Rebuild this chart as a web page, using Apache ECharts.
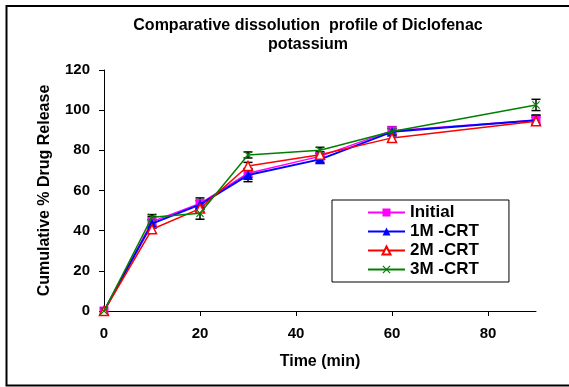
<!DOCTYPE html>
<html>
<head>
<meta charset="utf-8">
<script src="https://cdn.jsdelivr.net/npm/echarts@6/dist/echarts.min.js"></script>
<style>
  html, body { margin: 0; padding: 0; background: #fff; }
  #chart { width: 569px; height: 387px; }
</style>
</head>
<body>
<div id="chart"></div>
<script>
// Sampling times (min)
const timePoints = [0, 10, 20, 30, 45, 60, 90];

// Mean cumulative % drug release per storage condition
const initialRelease = [0, 44.5, 53.5, 68.6, 77.0, 89.8, 95.0];
const crt1mRelease   = [0, 43.5, 53.0, 67.7, 75.5, 89.2, 95.0];
const crt2mRelease   = [0, 40.7, 51.0, 72.2, 77.8, 86.2, 94.5];
const crt3mRelease   = [0, 46.7, 48.7, 77.7, 80.0, 89.4, 102.6];

// Standard deviations (error bars)
const initialSD = [0, 2.5, 2.8, 2.0, 1.5, 2.0, 2.5];
const crt1mSD   = [0, 2.0, 2.0, 3.3, 1.5, 1.5, 2.5];
const crt2mSD   = [0, 2.0, 1.5, 1.8, 1.5, 1.8, 2.0];
const crt3mSD   = [0, 1.3, 3.0, 1.5, 1.5, 1.5, 2.8];

const seriesNames = ['Initial', '1M -CRT', '2M -CRT', '3M -CRT'];
const xTicks = [0, 20, 40, 60, 80];

const FONT = 'Arial, "Liberation Sans", sans-serif';
const crossPath = 'path://M0,1L1,0L5,4L9,0L10,1L6,5L10,9L9,10L5,6L1,10L0,9L4,5Z';

function pairs(values) {
  return timePoints.map((t, i) => [t, values[i]]);
}

// Error bar rows: [time, low, high]
function errorRows(values, sd) {
  return timePoints.map((t, i) => [t, values[i] - sd[i], values[i] + sd[i]]);
}

function errorBarSeries(values, sd) {
  return {
    type: 'custom',
    silent: true,
    z: 3,
    data: errorRows(values, sd),
    encode: { x: 0, y: [1, 2] },
    renderItem: function (params, api) {
      if (api.value(2) - api.value(1) <= 0) return null;
      const x = api.value(0);
      const lo = api.coord([x, api.value(1)]);
      const hi = api.coord([x, api.value(2)]);
      const half = 4.5;
      const style = { stroke: '#000', lineWidth: 1.5 };
      return {
        type: 'group',
        children: [
          { type: 'line', shape: { x1: lo[0], y1: lo[1], x2: hi[0], y2: hi[1] }, style: style },
          { type: 'line', shape: { x1: hi[0] - half, y1: hi[1], x2: hi[0] + half, y2: hi[1] }, style: style },
          { type: 'line', shape: { x1: lo[0] - half, y1: lo[1], x2: lo[0] + half, y2: lo[1] }, style: style }
        ]
      };
    }
  };
}

const chart = echarts.init(document.getElementById('chart'), null, { renderer: 'canvas' });

chart.setOption({
  animation: false,
  backgroundColor: '#fff',
  title: {
    text: 'Comparative dissolution  profile of Diclofenac\npotassium',
    left: 303,
    top: 11,
    textAlign: 'center',
    textStyle: { fontFamily: FONT, fontWeight: 'bold', fontSize: 16, lineHeight: 19, color: '#000' }
  },
  graphic: [{
    type: 'rect',
    shape: { x: 6.5, y: 6, width: 600, height: 379.5 },
    style: { fill: 'none', stroke: '#000', lineWidth: 2 },
    silent: true,
    z: 100
  }],
  grid: { left: 104, right: 33, top: 70, bottom: 76, containLabel: false },
  legend: {
    data: seriesNames,
    orient: 'vertical',
    left: 332,
    top: 200,
    padding: [4, 30, 4, 35],
    itemGap: 2,
    itemWidth: 37,
    itemHeight: 10,
    borderColor: '#000',
    borderWidth: 1,
    backgroundColor: '#fff',
    textStyle: { fontFamily: FONT, fontWeight: 'bold', fontSize: 17, lineHeight: 17, color: '#000' }
  },
  xAxis: {
    type: 'value',
    min: 0,
    max: 90,
    interval: 20,
    name: 'Time (min)',
    nameLocation: 'middle',
    nameGap: 43,
    nameTextStyle: { fontFamily: FONT, fontWeight: 'bold', fontSize: 16, color: '#000' },
    splitLine: { show: false },
    axisLine: { lineStyle: { color: '#000', width: 1 } },
    axisTick: { show: true, length: 5, lineStyle: { color: '#000' }, customValues: xTicks },
    axisLabel: { customValues: xTicks, margin: 15, fontFamily: FONT, fontWeight: 'bold', fontSize: 15, color: '#000' }
  },
  yAxis: {
    type: 'value',
    min: 0,
    max: 120,
    interval: 20,
    name: 'Cumulative % Drug Release',
    nameLocation: 'middle',
    nameGap: 51,
    nameTextStyle: { fontFamily: FONT, fontWeight: 'bold', fontSize: 16, color: '#000' },
    splitLine: { show: false },
    axisLine: { show: true, lineStyle: { color: '#000', width: 1 } },
    axisTick: { show: true, length: 5, lineStyle: { color: '#000' } },
    axisLabel: { margin: 14, fontFamily: FONT, fontWeight: 'bold', fontSize: 15, color: '#000' }
  },
  series: [
    errorBarSeries(initialRelease, initialSD),
    errorBarSeries(crt1mRelease, crt1mSD),
    errorBarSeries(crt2mRelease, crt2mSD),
    errorBarSeries(crt3mRelease, crt3mSD),
    {
      name: 'Initial', type: 'line', z: 4,
      data: pairs(initialRelease),
      symbol: 'rect', symbolSize: 9,
      color: '#ff00ff',
      lineStyle: { color: '#ff00ff', width: 1.5 },
      itemStyle: { color: '#ff00ff' }
    },
    {
      name: '1M -CRT', type: 'line', z: 5,
      data: pairs(crt1mRelease),
      symbol: 'triangle', symbolSize: 10,
      color: '#0000ff',
      lineStyle: { color: '#0000ff', width: 2 },
      itemStyle: { color: '#0000ff' }
    },
    {
      name: '2M -CRT', type: 'line', z: 6,
      data: pairs(crt2mRelease),
      symbol: 'triangle', symbolSize: 9,
      color: '#ff0000',
      showAllSymbol: true,
      lineStyle: { color: '#ff0000', width: 1.5 },
      itemStyle: { color: '#ffffff', borderColor: '#ff0000', borderWidth: 1.5 }
    },
    {
      name: '3M -CRT', type: 'line', z: 7,
      data: pairs(crt3mRelease),
      symbol: crossPath, symbolSize: 8,
      color: '#008000',
      lineStyle: { color: '#008000', width: 1.5 },
      itemStyle: { color: '#008000' }
    }
  ]
});
</script>
</body>
</html>
